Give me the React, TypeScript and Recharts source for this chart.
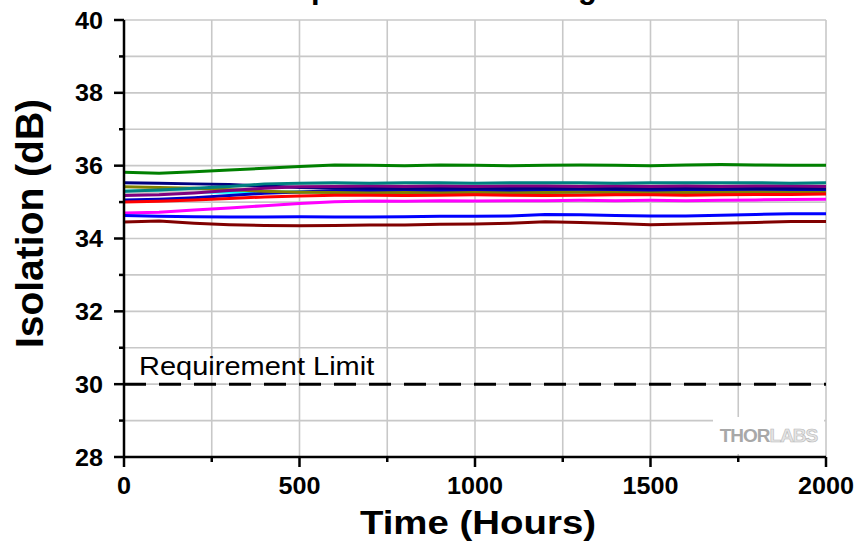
import { LineChart, Line, XAxis, YAxis, CartesianGrid, ReferenceLine } from 'recharts';

const hours = [0, 100, 200, 300, 400, 500, 600, 700, 800, 900, 1000, 1100, 1200, 1300, 1400, 1500, 1600, 1700, 1800, 1900, 2000];

const green = [35.82, 35.79, 35.83, 35.88, 35.93, 35.98, 36.02, 36.01, 36.0, 36.02, 36.01, 36.0, 36.01, 36.02, 36.01, 36.0, 36.02, 36.03, 36.02, 36.01, 36.01];
const teal = [35.3, 35.33, 35.38, 35.43, 35.5, 35.52, 35.53, 35.52, 35.53, 35.53, 35.52, 35.53, 35.53, 35.53, 35.52, 35.53, 35.53, 35.53, 35.53, 35.52, 35.53];
const silver = [35.22, 35.25, 35.3, 35.36, 35.42, 35.46, 35.49, 35.48, 35.49, 35.48, 35.48, 35.49, 35.48, 35.48, 35.49, 35.48, 35.48, 35.48, 35.47, 35.48, 35.48];
const purple = [35.18, 35.2, 35.25, 35.32, 35.38, 35.42, 35.43, 35.44, 35.43, 35.44, 35.43, 35.44, 35.44, 35.43, 35.44, 35.43, 35.44, 35.43, 35.44, 35.44, 35.43];
const navy = [35.53, 35.52, 35.5, 35.48, 35.44, 35.4, 35.38, 35.38, 35.37, 35.38, 35.38, 35.37, 35.38, 35.38, 35.37, 35.38, 35.38, 35.38, 35.37, 35.38, 35.38];
const royal = [35.06, 35.08, 35.12, 35.18, 35.24, 35.28, 35.31, 35.32, 35.31, 35.32, 35.32, 35.31, 35.32, 35.32, 35.31, 35.32, 35.32, 35.33, 35.33, 35.34, 35.34];
const olive = [35.42, 35.4, 35.38, 35.34, 35.3, 35.27, 35.26, 35.25, 35.26, 35.25, 35.26, 35.25, 35.26, 35.27, 35.26, 35.25, 35.26, 35.26, 35.27, 35.26, 35.26];
const cyan = [35.3, 35.32, 35.28, 35.27, 35.28, 35.28, 35.29, 35.28, 35.29, 35.28, 35.28, 35.29, 35.28, 35.28, 35.29, 35.28, 35.28, 35.29, 35.28, 35.28, 35.28];
const red = [35.0, 35.02, 35.06, 35.1, 35.14, 35.17, 35.19, 35.19, 35.18, 35.19, 35.2, 35.19, 35.18, 35.19, 35.2, 35.2, 35.19, 35.2, 35.21, 35.21, 35.22];
const magenta = [34.7, 34.72, 34.78, 34.84, 34.9, 34.96, 35.01, 35.03, 35.02, 35.04, 35.03, 35.04, 35.04, 35.05, 35.04, 35.05, 35.04, 35.05, 35.06, 35.07, 35.08];
const blue = [34.63, 34.61, 34.6, 34.59, 34.59, 34.6, 34.59, 34.59, 34.6, 34.61, 34.61, 34.62, 34.66, 34.65, 34.63, 34.62, 34.62, 34.64, 34.66, 34.68, 34.68];
const maroon = [34.45, 34.48, 34.42, 34.38, 34.36, 34.35, 34.36, 34.37, 34.37, 34.39, 34.4, 34.42, 34.46, 34.44, 34.41, 34.38, 34.4, 34.42, 34.44, 34.47, 34.47];

const xTicks = [0, 250, 500, 750, 1000, 1250, 1500, 1750, 2000];
const yTicks = [28, 29, 30, 31, 32, 33, 34, 35, 36, 37, 38, 39, 40];
const limit = 30;

// drawn bottom to top
const series = [
  { key: 'cyan', color: '#00ffff', values: cyan },
  { key: 'silver', color: '#c8c8c8', values: silver },
  { key: 'royal', color: '#0000c0', values: royal },
  { key: 'olive', color: '#808000', values: olive },
  { key: 'red', color: '#ff0000', values: red },
  { key: 'navy', color: '#000080', values: navy },
  { key: 'purple', color: '#800080', values: purple },
  { key: 'teal', color: '#008080', values: teal },
  { key: 'magenta', color: '#ff00ff', values: magenta },
  { key: 'blue', color: '#0000ff', values: blue },
  { key: 'maroon', color: '#800000', values: maroon },
  { key: 'green', color: '#008000', values: green },
];

const data = hours.map((h, i) => {
  const row: Record<string, number> = { h };
  series.forEach((s) => {
    row[s.key] = s.values[i];
  });
  return row;
});

const FONT = '"Liberation Sans", Arial, sans-serif';

const XTick = (props: any) => {
  const { x, y, payload } = props;
  const major = payload.value % 500 === 0;
  return (
    <g>
      <line x1={x} x2={x} y1={y} y2={y + (major ? 10 : 5)} stroke="#000" strokeWidth={2.5} />
      {major && (
        <text
          transform={`translate(${x} ${y + 37}) scale(1.05 1)`}
          textAnchor="middle"
          fontSize={24}
          fontWeight="bold"
          fontFamily={FONT}
          fill="#000"
        >
          {payload.value}
        </text>
      )}
    </g>
  );
};

const YTick = (props: any) => {
  const { x, y, payload } = props;
  const major = payload.value % 2 === 0;
  return (
    <g>
      <line x1={x - (major ? 10 : 5)} x2={x} y1={y} y2={y} stroke="#000" strokeWidth={2.5} />
      {major && (
        <text
          transform={`translate(${x - 21} ${y + 8.5}) scale(1.05 1)`}
          textAnchor="end"
          fontSize={24}
          fontWeight="bold"
          fontFamily={FONT}
          fill="#000"
        >
          {payload.value}
        </text>
      )}
    </g>
  );
};

const XLabel = (props: any) => {
  const vb = props.viewBox;
  return (
    <text
      transform={`translate(${vb.x + vb.width / 2 + 3} ${vb.y + 77}) scale(1.13 1)`}
      textAnchor="middle"
      fontSize={34}
      fontWeight="bold"
      fontFamily={FONT}
      fill="#000"
    >
      Time (Hours)
    </text>
  );
};

const YLabel = (props: any) => {
  const vb = props.viewBox;
  const cx = 43;
  const cy = vb.y + vb.height / 2 - 15;
  return (
    <text
      x={cx}
      y={cy}
      transform={`rotate(-90 ${cx} ${cy})`}
      textAnchor="middle"
      fontSize={39}
      fontWeight="bold"
      fontFamily={FONT}
      fill="#000"
    >
      Isolation (dB)
    </text>
  );
};

const LimitLabel = (props: any) => {
  const vb = props.viewBox;
  return (
    <text
      transform={`translate(${vb.x + 15} ${vb.y - 9}) scale(1.16 1)`}
      fontSize={25}
      fontFamily={FONT}
      fill="#000"
    >
      Requirement Limit
    </text>
  );
};

export default function App() {
  return (
    <div style={{ position: 'absolute', left: 0, top: 0, width: 860, height: 546, overflow: 'hidden', background: '#fff' }}>
      <div
        style={{
          position: 'absolute',
          left: 287,
          top: -28,
          fontSize: 31,
          lineHeight: '31px',
          fontWeight: 'bold',
          fontFamily: FONT,
          whiteSpace: 'nowrap',
          color: '#000',
        }}
      >
        Optical Isolator Long-Term Test
      </div>
      <LineChart width={860} height={546} data={data} margin={{ top: 20, right: 34, bottom: 0, left: 0 }}>
        <CartesianGrid stroke="#c8c8c8" strokeWidth={1.6} />
        <XAxis
          dataKey="h"
          type="number"
          domain={[0, 2000]}
          ticks={xTicks}
          tick={<XTick />}
          tickLine={false}
          tickSize={0}
          tickMargin={0}
          height={89}
          axisLine={{ stroke: '#000', strokeWidth: 2.5 }}
          label={XLabel}
        />
        <XAxis xAxisId="top" orientation="top" type="number" domain={[0, 2000]} height={0} tick={false} tickLine={false} axisLine={{ stroke: '#000', strokeWidth: 2.5 }} />
        <YAxis
          type="number"
          domain={[28, 40]}
          ticks={yTicks}
          tick={<YTick />}
          tickLine={false}
          tickSize={0}
          tickMargin={0}
          width={124}
          interval={0}
          axisLine={{ stroke: '#000', strokeWidth: 2.5 }}
          label={YLabel}
        />
        <YAxis yAxisId="right" orientation="right" type="number" domain={[28, 40]} width={0} tick={false} tickLine={false} axisLine={{ stroke: '#000', strokeWidth: 2.5 }} />
        <ReferenceLine y={limit} stroke="#000" strokeWidth={3} strokeDasharray="22 13" label={LimitLabel} />
        {series.map((s) => (
          <Line
            key={s.key}
            dataKey={s.key}
            type="linear"
            stroke={s.color}
            strokeWidth={3}
            dot={false}
            isAnimationActive={false}
          />
        ))}
      </LineChart>
      <div
        style={{
          position: 'absolute',
          left: 713,
          top: 417,
          width: 111,
          height: 37,
          background: '#fff',
          fontFamily: FONT,
          fontWeight: 'bold',
          fontSize: 19,
          lineHeight: '37px',
          letterSpacing: -1,
          textAlign: 'center',
        }}
      >
        <span style={{ color: '#a8a8a8' }}>THOR</span>
        <span style={{ color: '#e4e4e4', WebkitTextStroke: '0.6px #b8b8b8' }}>LABS</span>
      </div>
    </div>
  );
}
